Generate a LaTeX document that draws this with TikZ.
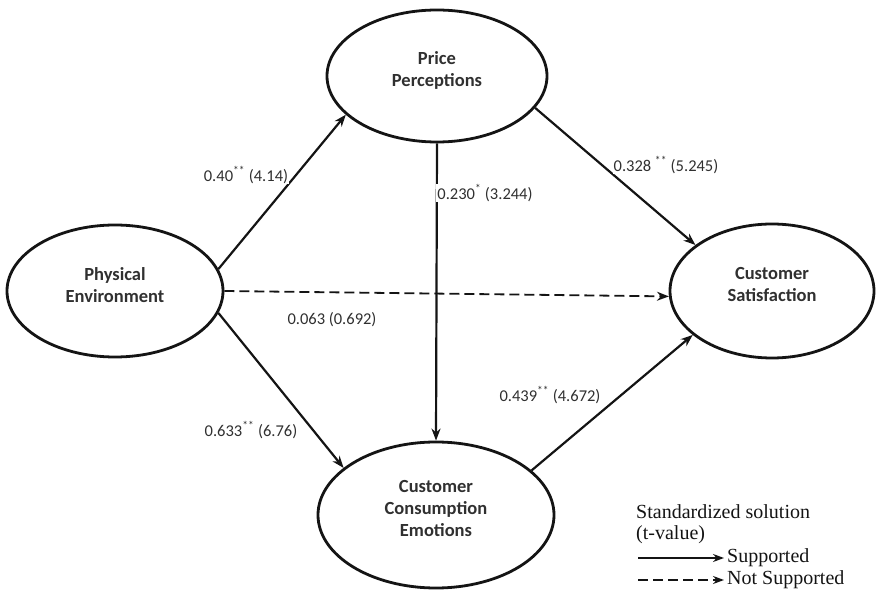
\documentclass[tikz,border=0pt]{standalone}
\usepackage{fontspec}
\setmainfont{Carlito}
\newfontfamily\legendfont{Liberation Serif}
\usetikzlibrary{shapes.geometric,arrows.meta}
\definecolor{ink}{HTML}{141414}
\definecolor{txt}{HTML}{303030}
\tikzset{
  latent/.style={ellipse,draw=ink,line width=2.8pt,fill=white,inner sep=0pt},
  ltext/.style={font=\fontsize{18.5}{22}\selectfont\bfseries,text=txt,align=center,inner sep=0pt},
  path/.style={draw=ink,line width=2.2pt,-{Stealth[length=12pt,width=9pt]}},
  nspath/.style={path,dashed,dash pattern=on 10pt off 5pt,line width=1.8pt},
  coef/.style={font=\fontsize{16.5}{18}\selectfont,text=txt,fill=white,inner sep=1pt},
  legtext/.style={font=\legendfont\fontsize{20}{22}\selectfont,text=ink,anchor=west,inner sep=0pt}
}
\newcommand{\sig}[1]{\textsuperscript{#1}}
\begin{document}
\begin{tikzpicture}[x=1pt,y=-1pt]
\useasboundingbox (0,0) rectangle (879,593);
\node[latent,minimum width=216pt,minimum height=132pt] (pe) at (115,291) {};
\node[latent,minimum width=220pt,minimum height=132pt] (pp) at (437,76) {};
\node[latent,minimum width=204pt,minimum height=134pt] (cs) at (772,291) {};
\node[latent,minimum width=236pt,minimum height=146pt] (ce) at (436,515) {};
\node[ltext] (pet) at ([yshift=6pt]pe.center) {Physical\\Environment};
\node[ltext] (ppt) at ([yshift=6pt]pp.center) {Price\\Perceptions};
\node[ltext] (cst) at ([yshift=6pt]cs.center) {Customer\\Satisfaction};
\node[ltext] (cet) at ([yshift=6pt]ce.center) {Customer\\Consumption\\Emotions};
\draw[path] (pe.12) -- (pp.203);
\draw[path] (pp.342) -- (cs.149);
\draw[path] (pp.south) -- (ce.north);
\draw[nspath] (pe.east) -- (cs.183);
\draw[path] (pe.-12) -- (ce.153);
\draw[path] (ce.25) -- (cs.209);
\node[coef] (c1) at (246,175) {0.40\sig{**} (4.14)};
\node[coef] (c2) at (666,165) {0.328 \sig{**} (5.245)};
\node[coef] (c3) at (485,193) {0.230\sig{*} (3.244)};
\node[coef] (c4) at (332,320) {0.063 (0.692)};
\node[coef] (c5) at (550,395) {0.439\sig{**} (4.672)};
\node[coef] (c6) at (251,430) {0.633\sig{**} (6.76)};
\node[legtext] (l1) at (636,512) {Standardized solution};
\node[legtext] (l2) at (636,535) {(t-value)};
\coordinate (a1) at (638,558);
\node[legtext] (l3) at (727,558) {Supported};
\coordinate (a2) at (638,580);
\node[legtext] (l4) at (727,580) {Not Supported};
\draw[path,line width=1.8pt,-{Stealth[length=11pt,width=8pt]}] (a1) -- ([xshift=-3pt]l3.west);
\draw[nspath,-{Stealth[length=11pt,width=8pt]}] (a2) -- ([xshift=-3pt]l4.west);
\end{tikzpicture}
\end{document}
